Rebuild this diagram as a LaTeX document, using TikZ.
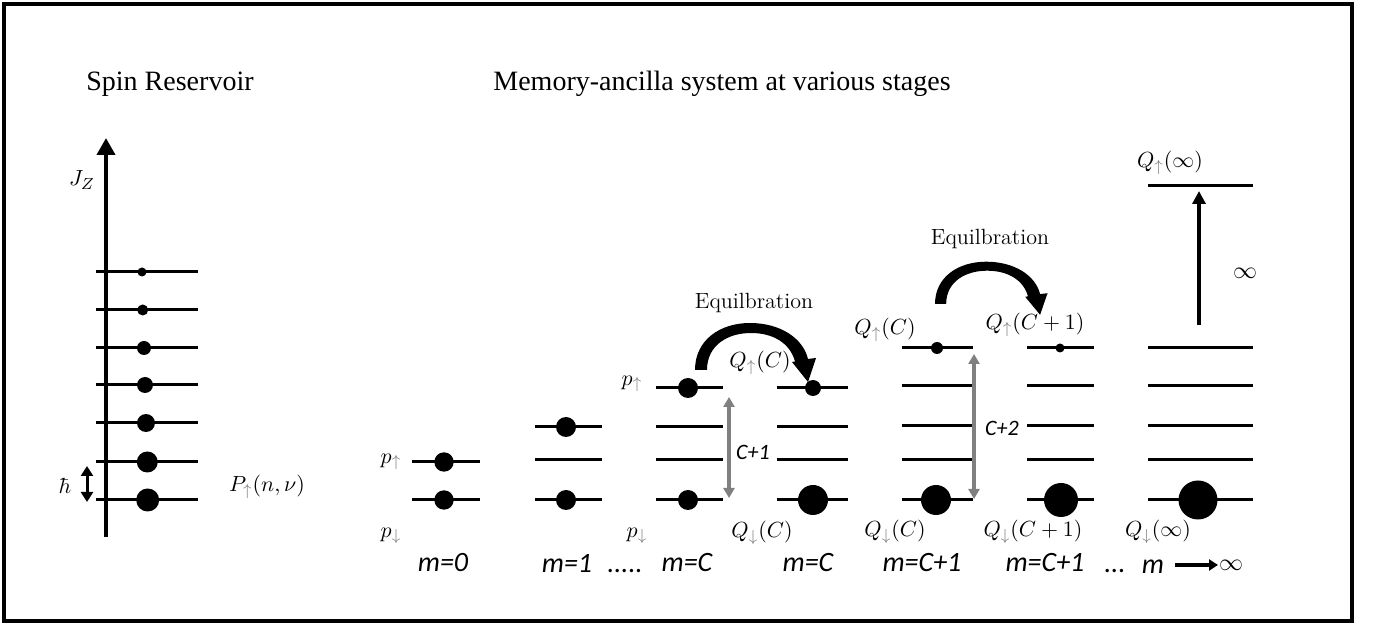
\documentclass[tikz,border=0pt]{standalone}
\usepackage{fontspec}
\usepackage{amsmath}
\usepackage{xcolor}
\usetikzlibrary{arrows.meta,positioning}
\newfontfamily\titlefont{Liberation Serif}
\newfontfamily\stagefont{Carlito}

% tapered curved arrow of the equilibration step, base at (0,0)
\newcommand{\equilarrow}{%
  \fill (0,0) .. controls (0,-30) and (25,-47) .. (55,-47)
    .. controls (85,-47) and (108,-32) .. (113,-11)
    -- (121,-12) -- (113,12) -- (97,-8) -- (100,-8.5)
    .. controls (95,-27) and (78,-37) .. (56,-37)
    .. controls (33,-37) and (12,-25) .. (12,0) -- cycle;}

\begin{document}
\begin{tikzpicture}[x=0.5pt,y=-0.5pt,
  level/.style={line width=1.5pt},
  dot/.style={circle, fill=black, inner sep=0pt},
  gap/.style={draw=gray, line width=1.6pt, {Triangle[width=5.5pt,length=5pt]}-{Triangle[width=5.5pt,length=5pt]}},
  lbl/.style={inner sep=0pt, font=\fontsize{11}{13}\selectfont},
  stage/.style={inner sep=0pt, font=\stagefont\itshape\fontsize{14}{16}\selectfont},
  title/.style={inner sep=0pt, font=\titlefont\fontsize{14}{16}\selectfont}]

\useasboundingbox (0,0) rectangle (1377,625);
\draw[line width=2pt] (4,4) rectangle (1352,621);

% Titles
\node[title] (restitle) at (170,84) {Spin Reservoir};
\node[title] (memtitle) at (722,84) {Memory-ancilla system at various stages};

% Spin reservoir
\coordinate (jbot) at (106,537);
\coordinate (jtop) at (106,138);
\draw[line width=2pt, -{Triangle[width=9pt,length=8.5pt]}] (jbot) -- (jtop);
\node[lbl] (jz) at (82,180) {$J_Z$};
\foreach \y/\x/\r [count=\i] in {272/142/4.5, 310/142.7/5.5, 348/144/7, 385/145/8, 423/146/9, 462/147.3/10.5, 500/147.7/11.5} {
  \draw[level] (96,\y) -- (198,\y);
  \node[dot, minimum size=\r pt] (res\i) at (\x,\y) {};
}
\coordinate (hbartop) at (87,466);
\coordinate (hbarbot) at (87,502);
\draw[line width=1.5pt, {Triangle[width=6pt,length=5pt]}-{Triangle[width=6pt,length=5pt]}] (hbartop) -- (hbarbot);
\node[lbl] (hbar) at (65,486) {$\hbar$};
\node[lbl] (pres) at (267,487) {$P_{\color{gray}\uparrow}(n,\nu)$};

% m=0
\foreach \y in {462,500} \draw[level] (412,\y) -- (480,\y);
\node[dot, minimum size=9.7pt] (m0up) at (444,462) {};
\node[dot, minimum size=9.7pt] (m0dn) at (444,500) {};
\node[lbl] (m0pu) at (391,462) {$p_{\color{gray}\uparrow}$};
\node[lbl] (m0pd) at (391,536) {$p_{\color{gray}\downarrow}$};
\node[stage] (m0lbl) at (443,563) {m=0};

% m=1
\foreach \y in {427,460,500} \draw[level] (535,\y) -- (602,\y);
\node[dot, minimum size=10pt] (m1up) at (566,427) {};
\node[dot, minimum size=10pt] (m1dn) at (566,500) {};
\node[stage] (m1lbl) at (567,563) {m=1};
\node[stage] (dotsa) at (625,571) {.....};

% m=C before equilibration
\foreach \y in {388,427,460,500} \draw[level] (656,\y) -- (723,\y);
\node[dot, minimum size=10pt] (mCup) at (688,388) {};
\node[dot, minimum size=10pt] (mCdn) at (688,500) {};
\node[lbl] (mCpu) at (632,384) {$p_{\color{gray}\uparrow}$};
\node[lbl] (mCpd) at (637,536) {$p_{\color{gray}\downarrow}$};
\coordinate (gapCa) at (729,397);
\coordinate (gapCb) at (729,498);
\draw[gap] (gapCa) -- (gapCb);
\node[stage, font=\stagefont\itshape\fontsize{11}{13}\selectfont] (gapClbl) at (753,452) {C+1};
\node[stage] (mClbl) at (687,563) {m=C};

% m=C after equilibration
\foreach \y in {388,427,460,500} \draw[level] (777,\y) -- (848,\y);
\node[dot, minimum size=8pt] (mCeup) at (813,388) {};
\node[dot, minimum size=15pt] (mCedn) at (813,500) {};
\node[lbl] (mCequ) at (760,363) {$Q_{\color{gray}\uparrow}(C)$};
\node[lbl] (mCeqd) at (762,533) {$Q_{\color{gray}\downarrow}(C)$};
\node[stage] (mCelbl) at (808,563) {m=C};
\begin{scope}[shift={(695,370)}]
  \equilarrow
\end{scope}
\node[lbl] (equila) at (754,303) {Equilbration};

% m=C+1 before equilibration
\foreach \y in {348,386,426,460,500} \draw[level] (902,\y) -- (973,\y);
\node[dot, minimum size=6pt] (mDup) at (937,348) {};
\node[dot, minimum size=15pt] (mDdn) at (936,500) {};
\node[lbl] (mDqu) at (885,330) {$Q_{\color{gray}\uparrow}(C)$};
\node[lbl] (mDqd) at (895,532) {$Q_{\color{gray}\downarrow}(C)$};
\coordinate (gapDa) at (974,354);
\coordinate (gapDb) at (974,499);
\draw[gap] (gapDa) -- (gapDb);
\node[stage, font=\stagefont\itshape\fontsize{11}{13}\selectfont] (gapDlbl) at (1002,428) {C+2};
\node[stage] (mDlbl) at (922,563) {m=C+1};

% m=C+1 after equilibration
\foreach \y in {348,386,426,460,500} \draw[level] (1027,\y) -- (1094,\y);
\node[dot, minimum size=4.5pt] (mDeup) at (1060,348) {};
\node[dot, minimum size=17pt] (mDedn) at (1061,500) {};
\node[lbl] (mDequ) at (1035,325) {$Q_{\color{gray}\uparrow}(C+1)$};
\node[lbl] (mDeqd) at (1033,532) {$Q_{\color{gray}\downarrow}(C+1)$};
\node[stage] (mDelbl) at (1045,563) {m=C+1};
\begin{scope}[shift={(935,304)}, xscale=0.93, yscale=0.9]
  \equilarrow
\end{scope}
\node[lbl] (equilb) at (990,239) {Equilbration};
\node[stage] (dotsb) at (1115,571) {...};

% m -> infinity
\foreach \y in {186,348,386,426,460,500} \draw[level] (1148,\y) -- (1253,\y);
\node[dot, minimum size=19.5pt] (mIdn) at (1198,500) {};
\node[lbl] (mIqu) at (1170,163) {$Q_{\color{gray}\uparrow}(\infty)$};
\node[lbl] (mIqd) at (1158,532) {$Q_{\color{gray}\downarrow}(\infty)$};
\coordinate (infa) at (1199,325);
\coordinate (infb) at (1199,191);
\draw[line width=2pt, -{Triangle[width=6.5pt,length=6.5pt]}] (infa) -- (infb);
\node[lbl, font=\fontsize{12}{14}\selectfont] (inflbl) at (1245,273) {$\infty$};
\node[stage] (mIlbl) at (1153,567) {m};
\coordinate (mIa) at (1175,565);
\coordinate (mIb) at (1218,565);
\draw[line width=2pt, -{Triangle[width=5.5pt,length=4.5pt]}] (mIa) -- (mIb);
\node[lbl, font=\fontsize{12}{14}\selectfont] (mIinf) at (1231,565) {$\infty$};

\end{tikzpicture}
\end{document}
